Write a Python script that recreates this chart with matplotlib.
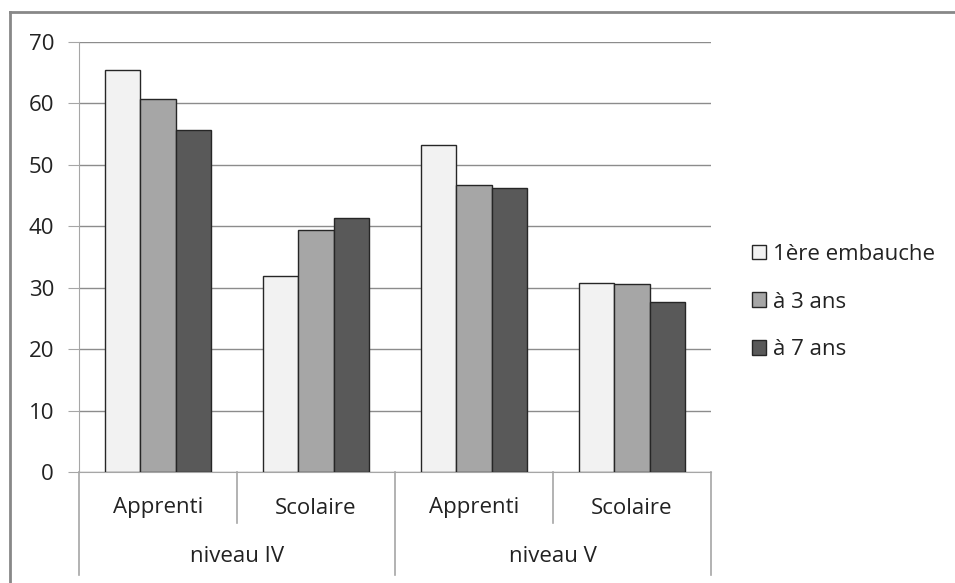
import matplotlib
matplotlib.use("Agg")
import matplotlib.pyplot as plt
import numpy as np
from matplotlib.lines import Line2D

# ---------------------------------------------------------------------------
# Data
# ---------------------------------------------------------------------------
categories = ["Apprenti", "Scolaire", "Apprenti", "Scolaire"]
groups = ["niveau IV", "niveau V"]
series_names = ["1ère embauche", "à 3 ans", "à 7 ans"]
premiere_embauche = [65.4, 31.9, 53.3, 30.8]
a_3_ans = [60.8, 39.4, 46.8, 30.6]
a_7_ans = [55.6, 41.3, 46.2, 27.6]
yticks = [0, 10, 20, 30, 40, 50, 60, 70]

colors = ["#f2f2f2", "#a6a6a6", "#595959"]
grid_col = "#8c8c8c"
axis_col = "#a6a6a6"
text_col = "#222222"
FS = 16

plt.rcParams["font.family"] = ["Open Sans", "DejaVu Sans"]

W, H = 955, 583
fig = plt.figure(figsize=(W / 100, H / 100), dpi=100)

# plot area in pixels: x 79..711, y 42..472
x0, x1, ytop, ybot = 79, 711, 42, 472
ax = fig.add_axes([x0 / W, (H - ybot) / H, (x1 - x0) / W, (ybot - ytop) / H])

x = np.arange(len(categories))
w = 1 / 4.5
for i, vals in enumerate([premiere_embauche, a_3_ans, a_7_ans]):
    ax.bar(x + (i - 1) * w, vals, width=w, color=colors[i], edgecolor="#262626",
           linewidth=1.0, label=series_names[i], zorder=3)

ax.set_xlim(-0.5, len(categories) - 0.5)
ax.set_ylim(0, 70)
ax.set_yticks(yticks)
ax.set_xticks([])
ax.yaxis.grid(True, color=grid_col, linewidth=1.0, zorder=0)
for s in ["top", "right"]:
    ax.spines[s].set_visible(False)
ax.spines["left"].set_color(axis_col)
ax.spines["bottom"].set_color(axis_col)
ax.tick_params(axis="y", length=8, color=axis_col, labelsize=FS, pad=10,
               labelcolor=text_col)

# multi-level category axis
tr = ax.get_xaxis_transform()
span = ybot - ytop
y_lvl1 = -(523 - ybot) / span
y_lvl2 = -(575 - ybot) / span
for b in [-0.5, 1.5, 3.5]:
    ax.plot([b, b], [0, y_lvl2], transform=tr, color=axis_col, lw=1.2, clip_on=False)
for b in [0.5, 2.5]:
    ax.plot([b, b], [0, y_lvl1], transform=tr, color=axis_col, lw=1.2, clip_on=False)
for xi, lab in zip(x, categories):
    ax.text(xi, -(508 - ybot) / span, lab, transform=tr, ha="center",
            va="center", fontsize=FS, color=text_col)
for gi, g in enumerate(groups):
    ax.text(gi * 2 + 0.5, -(557 - ybot) / span, g, transform=tr,
            ha="center", va="center", fontsize=FS, color=text_col)

# legend
leg = ax.legend(loc="center left", bbox_to_anchor=(752 / W, (H - 302) / H),
                bbox_transform=fig.transFigure, frameon=False, fontsize=FS,
                handlelength=0.65, handleheight=0.65, handletextpad=0.3,
                labelspacing=1.2, borderpad=0, borderaxespad=0)
for t in leg.get_texts():
    t.set_color(text_col)

# chart frame (top and left edges)
fig.add_artist(Line2D([10 / W, 10 / W], [0, (H - 12) / H], color="#888888", lw=2))
fig.add_artist(Line2D([10 / W, 1], [(H - 12) / H, (H - 12) / H], color="#888888", lw=2))

fig.savefig("out.png", dpi=100)
